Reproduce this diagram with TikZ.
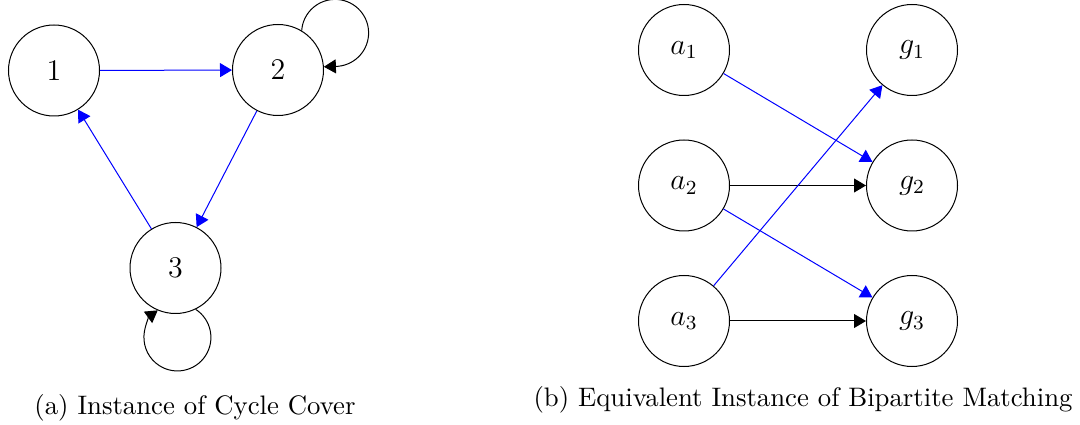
\documentclass[tikz,border=0pt]{standalone}
\usetikzlibrary{arrows.meta}
\begin{document}
\begin{tikzpicture}[x=0.4pt,y=-0.4pt,
  vert/.style={circle,draw,minimum size=36.4pt,inner sep=0pt,font=\large},
  sel/.style={blue,-{Triangle[length=4.8pt,width=5.6pt]}},
  plain/.style={black,-{Triangle[length=4.8pt,width=5.6pt]}},
  captxt/.style={inner sep=0pt,anchor=center,font=\fontsize{10.7pt}{13pt}\selectfont}]
\useasboundingbox (0,0) rectangle (1080,425);
% (a) cycle cover
\node[vert] (n1) at (54,70.5) {1};
\node[vert] (n2) at (278,70) {2};
\node[vert] (n3) at (175.5,268) {3};
\draw[sel] (n1) -- (n2);
\draw[sel] (n2) -- (n3);
\draw[sel] (n3) -- (n1);
\draw[plain] (n2.59) arc[start angle=176,end angle=-90,radius=13.4pt] -- (n2.4);
\draw[plain] (n3.-64) arc[start angle=57,end angle=-234,radius=13.4pt];
\node[captxt] (capa) at (195,408) {(a) Instance of Cycle Cover};
% (b) bipartite matching
\node[vert] (a1) at (684,50) {$a_1$};
\node[vert] (g1) at (912,50) {$g_1$};
\node[vert] (a2) at (684,185.5) {$a_2$};
\node[vert] (g2) at (912,185.5) {$g_2$};
\node[vert] (a3) at (684,321) {$a_3$};
\node[vert] (g3) at (912,321) {$g_3$};
\draw[sel] (a1) -- (g2);
\draw[plain] (a2) -- (g2);
\draw[sel] (a2) -- (g3);
\draw[sel] (a3) -- (g1);
\draw[plain] (a3) -- (g3);
\node[captxt] (capb) at (803,400) {(b) Equivalent Instance of Bipartite Matching};
\end{tikzpicture}
\end{document}
